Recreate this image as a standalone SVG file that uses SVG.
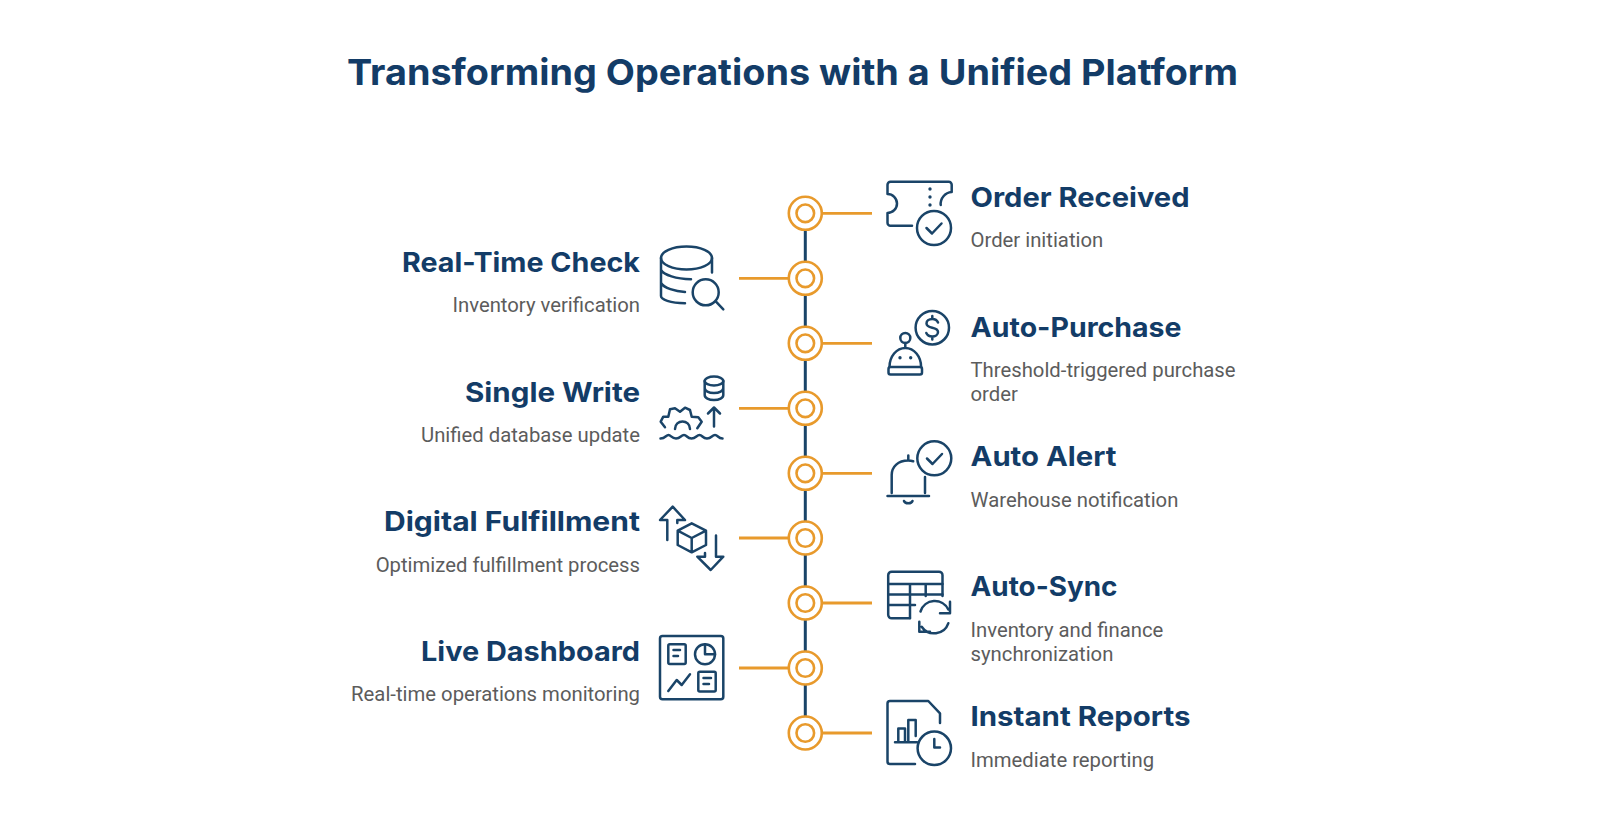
<svg xmlns="http://www.w3.org/2000/svg" width="1600" height="840" viewBox="0 0 1600 840">
<style>
.t{font-family:"Inter","Open Sans","Liberation Sans",sans-serif;font-weight:700;fill:#133c67}
.h{font-family:"Inter","Open Sans","Liberation Sans",sans-serif;font-weight:700;font-size:27px;fill:#133c67}
.d{font-family:"Roboto","Liberation Sans",sans-serif;font-size:20.300px;fill:#5c5c5c}
.e{text-anchor:end}
.i{fill:none;stroke:#1a4468;stroke-width:2.500;stroke-linecap:round;stroke-linejoin:round}
.o{fill:none;stroke:#1a4468;stroke-width:3.400;stroke-linecap:round}
.r{fill:none;stroke:#e89a2c;stroke-width:2.600}
.c{fill:none;stroke:#e89a2c;stroke-width:2.800}
.s{fill:none;stroke:#1a4468;stroke-width:3}
</style>
<defs>
<g id="ring"><circle class="r" r="16.500"/><circle class="r" r="8.800"/></g>
</defs>
<rect width="1600" height="840" fill="#fff"/>
<text class="t" x="347" y="84.500" font-size="36" textLength="891" lengthAdjust="spacingAndGlyphs">Transforming Operations with a Unified Platform</text>
<g id="connectors">
<path class="s" d="M805.300 230V261M805.300 295V326M805.300 360V391M805.300 425V456M805.300 490V521M805.300 555V586M805.300 620V651M805.300 685V716"/>
<path class="c" d="M822 213.300H872M739 278.300H788.500M822 343.300H872M739 408.300H788.500M822 473.300H872M739 538H788.500M822 603H872M739 668H788.500M822 733H872"/>
<use href="#ring" x="805.300" y="213.300"/><use href="#ring" x="805.300" y="278.300"/><use href="#ring" x="805.300" y="343.300"/><use href="#ring" x="805.300" y="408.300"/><use href="#ring" x="805.300" y="473.300"/><use href="#ring" x="805.300" y="538"/><use href="#ring" x="805.300" y="603"/><use href="#ring" x="805.300" y="668"/><use href="#ring" x="805.300" y="733"/>
</g>
<g id="order-received">
<text class="h" x="970.500" y="207" textLength="219" lengthAdjust="spacingAndGlyphs">Order Received</text>
<text class="d" x="970.500" y="247">Order initiation</text>
<path class="i" d="M912 225.700H890.500a3 3 0 0 1-3-3V213a9.500 9.500 0 0 0 0-19V184.700a3 3 0 0 1 3-3H948.700a3 3 0 0 1 3 3V192a12 12 0 0 0-11 13"/>
<path class="o" d="M930 189v.1M930 197v.1M930 205v.1"/>
<circle class="i" cx="934" cy="228" r="17"/><path class="i" d="M926.500 228l5.500 5.500 9.500-10"/>
</g>
<g id="real-time-check">
<text class="h e" x="640" y="271.500" textLength="238" lengthAdjust="spacingAndGlyphs">Real-Time Check</text>
<text class="d e" x="640" y="312">Inventory verification</text>
<ellipse class="i" cx="686.500" cy="258" rx="25.500" ry="11.500"/>
<path class="i" d="M661 258V296c0 3.500 9 7 24 7.200M712 258V272.500M661 270c3 5 15 9 30 9.300M661 283c3 5 14 8.500 24 9"/>
<circle class="i" cx="705.700" cy="292.300" r="13"/><path class="i" d="M716 301.700L723.300 309.300"/>
</g>
<g id="auto-purchase">
<text class="h" x="970.500" y="336.500" textLength="211" lengthAdjust="spacingAndGlyphs">Auto-Purchase</text>
<text class="d" x="970.500" y="377">Threshold-triggered purchase</text>
<text class="d" x="970.500" y="401">order</text>
<circle class="i" cx="932.300" cy="327.700" r="16.700"/>
<path class="i" d="M938 322.500c-1-2.500-3-3.500-5.700-3.500-3.500 0-5.800 2-5.800 4.500 0 6 11.500 2.500 11.500 8.500 0 2.500-2.500 4.500-5.700 4.500-3 0-5-1.200-6-3.500M932.300 316V319M932.300 336.500V339.500"/>
<circle class="i" cx="905.300" cy="338" r="5"/>
<path class="i" d="M905.300 343V348M889.500 367c0-10.500 7-19 15.800-19s15.800 8.500 15.800 19"/>
<rect class="i" x="888.500" y="367" width="33.500" height="7.500" rx="2"/>
<path class="o" d="M900 357.700v.1M910.700 357.700v.1"/>
</g>
<g id="single-write">
<text class="h e" x="640" y="401.500" textLength="175" lengthAdjust="spacingAndGlyphs">Single Write</text>
<text class="d e" x="640" y="442">Unified database update</text>
<ellipse class="i" cx="714" cy="381" rx="9.300" ry="4.500"/>
<path class="i" d="M704.700 381V395c0 3 4 5 9.300 5s9.300-2 9.300-5V381M704.700 388c0 3 4 5 9.300 5s9.300-2 9.300-5"/>
<path class="i" d="M714 426.500V408M708 413.500L714 407.500 720 413.500"/>
<path class="i" d="M665 427.300L660.700 421.700 663.300 416.700 668.300 416.700 670 409.300 675 408.300 680 411.700 685 407.700 690 410 691.700 416.700 698.300 417.300 701.700 421.700 697.300 428.300"/>
<path class="i" d="M675 429c0-10 15-10 15 0"/>
<path class="i" d="M660.500 438.500c5 0 5.500-3.500 8-3.500s3 3.500 7.500 3.500 5-3.500 8-3.500 3 3.500 7.500 3.500 5-3.500 8-3.500 3 3.500 7.500 3.500 5-3.500 8-3.500 3 3.500 7.500 3.500"/>
</g>
<g id="auto-alert">
<text class="h" x="970.500" y="466" textLength="146" lengthAdjust="spacingAndGlyphs">Auto Alert</text>
<text class="d" x="970.500" y="507">Warehouse notification</text>
<circle class="i" cx="934.300" cy="458.300" r="17"/><path class="i" d="M927 458.500l5.500 5.500 9.500-10"/>
<path class="i" d="M891.700 493V475c0-8.500 6.500-14.500 16.500-14.500 1.500 0 3 .2 5 .8M925 477V493M887.500 496H929M908.300 455.500V460M904 501c1 3 7.500 3 8.500 0"/>
</g>
<g id="digital-fulfillment">
<text class="h e" x="640" y="531" textLength="256" lengthAdjust="spacingAndGlyphs">Digital Fulfillment</text>
<text class="d e" x="640" y="572">Optimized fulfillment process</text>
<path class="i" d="M667.300 540V520H660L672.700 506.700 685 520H677.300V523"/>
<path class="i" d="M691.700 523.300L706 530.700V545L691.700 552.300 677.700 545V530.700ZM677.700 530.700L691.700 538 706 530.700M691.700 538V552.300"/>
<path class="i" d="M716 535.500V556.700H723.300L710.700 570 697.300 556.700H705V553"/>
</g>
<g id="auto-sync">
<text class="h" x="970.500" y="596" textLength="147" lengthAdjust="spacingAndGlyphs">Auto-Sync</text>
<text class="d" x="970.500" y="636.500">Inventory and finance</text>
<text class="d" x="970.500" y="661">synchronization</text>
<path class="i" d="M910 618.300H891.700a3.500 3.500 0 0 1-3.500-3.500V575.200a3.500 3.500 0 0 1 3.500-3.500H939a3.500 3.500 0 0 1 3.500 3.500V596"/>
<path class="i" d="M888.200 584H942.500M888.200 594.500H942.500M888.200 605H915M910 584V618M925.700 584V596"/>
<path class="i" d="M920.500 611.500a15 15 0 0 1 27.800-2M950 601.700V613.300H940M948.300 623.300a15 15 0 0 1-26.600 3.400M919.300 621.700V631.700H930"/>
</g>
<g id="live-dashboard">
<text class="h e" x="640" y="661" textLength="219" lengthAdjust="spacingAndGlyphs">Live Dashboard</text>
<text class="d e" x="640" y="701">Real-time operations monitoring</text>
<rect class="i" x="660" y="636" width="63.300" height="63.300" rx="2.500"/>
<rect class="i" x="668.300" y="644.300" width="17.400" height="19.700" rx="1.500"/>
<path class="i" d="M673.500 650H680M673.500 656H678"/>
<circle class="i" cx="705" cy="654.300" r="10"/><path class="i" d="M705 644.300V654.300H715"/>
<path class="i" d="M668.300 691L676.700 680 681.700 685 690 674.300"/>
<rect class="i" x="698.300" y="671.700" width="17.400" height="19.700" rx="1.500"/>
<path class="i" d="M703.500 678H711M703.500 684H709"/>
</g>
<g id="instant-reports">
<text class="h" x="970.500" y="726" textLength="220" lengthAdjust="spacingAndGlyphs">Instant Reports</text>
<text class="d" x="970.500" y="766.500">Immediate reporting</text>
<path class="i" d="M915 764H890a2.500 2.500 0 0 1-2.500-2.500V703.500a2.500 2.500 0 0 1 2.500-2.500H928.300L940 713.300V723"/>
<path class="i" d="M895 742.300H917M898.300 742.300V728.500H905V742.300M908.300 742.300V720H915.700V736"/>
<circle class="i" cx="934.300" cy="748.300" r="16.700"/><path class="i" d="M934.300 739V747.500H940"/>
</g>
</svg>
